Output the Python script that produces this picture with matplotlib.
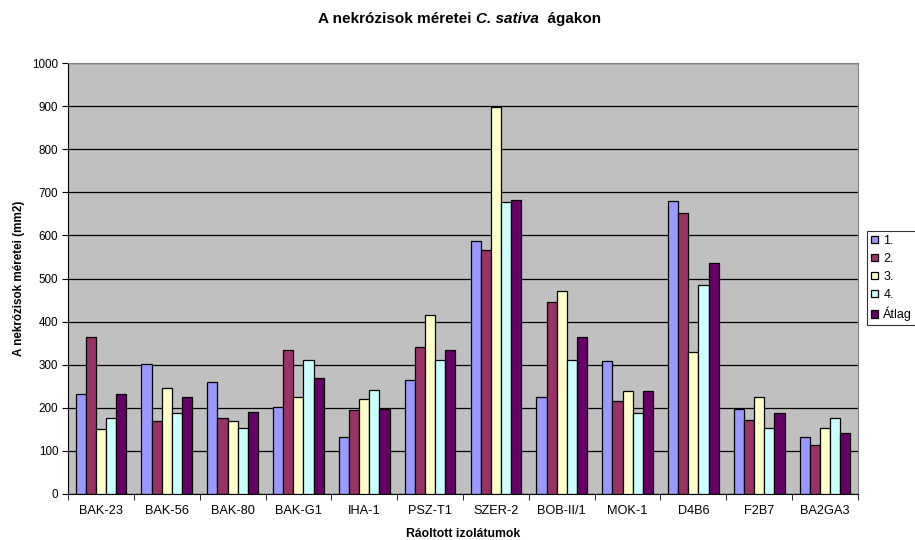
import numpy as np
import matplotlib
matplotlib.use("Agg")
import matplotlib.pyplot as plt

plt.rcParams['font.family'] = ['Liberation Sans', 'DejaVu Sans']

categories = ["BAK-23", "BAK-56", "BAK-80", "BAK-G1", "IHA-1", "PSZ-T1",
              "SZER-2", "BOB-II/1", "MOK-1", "D4B6", "F2B7", "BA2GA3"]
series_names = ["1.", "2.", "3.", "4.", "Átlag"]
s1 = [232, 302, 259, 202, 132, 264, 588, 226, 308, 679, 198, 132]
s2 = [365, 170, 176, 334, 195, 340, 566, 446, 215, 653, 171, 114]
s3 = [151, 246, 170, 226, 220, 415, 898, 472, 239, 330, 226, 152]
s4 = [176, 188, 154, 311, 242, 311, 678, 311, 189, 484, 152, 176]
avg = [232, 226, 190, 268, 198, 333, 683, 364, 238, 537, 187, 142]
colors = ["#9999FF", "#993366", "#FFFFCC", "#CCFFFF", "#660066"]

series = [s1, s2, s3, s4, avg]

fig = plt.figure(figsize=(9.15, 5.4), dpi=100)
ax = fig.add_axes([68/915, 46/540, 790/915, 431/540])
ax.set_facecolor("#C0C0C0")

n = len(series)
w = 1 / 6.5
x = np.arange(len(categories))
for i, (vals, c, name) in enumerate(zip(series, colors, series_names)):
    off = (i - (n - 1) / 2) * w
    # soft drop shadow behind each bar
    ax.bar(x + off + 0.015, vals, width=w, color="#555555", alpha=0.45,
           linewidth=0, zorder=2)
    ax.bar(x + off, vals, width=w, color=c, edgecolor="black",
           linewidth=0.9, zorder=3, label=name)

ax.set_xlim(-0.5, len(categories) - 0.5)
ax.set_ylim(0, 1000)
ax.set_yticks(np.arange(0, 1001, 100))
ax.yaxis.grid(True, color="black", linewidth=0.9, zorder=1)
ax.set_axisbelow(True)

ax.set_xticks(x)
ax.set_xticklabels(categories, fontsize=9.2)
ax.tick_params(axis='x', length=0, pad=8)
ax.set_xticks(np.arange(-0.5, len(categories) + 0.5, 1), minor=True)
ax.tick_params(axis='x', which='minor', length=4, direction='out', color='black')
ax.tick_params(axis='y', length=4, direction='out', labelsize=8.4, pad=3)

for side in ["top", "right"]:
    ax.spines[side].set_color("#808080")
ax.spines["left"].set_color("black")
ax.spines["bottom"].set_color("black")

ax.set_xlabel("Ráoltott izolátumok", fontsize=8.8, fontweight="bold", labelpad=8)
ax.set_ylabel("A nekrózisok méretei (mm2)", fontsize=8.4, fontweight="bold", labelpad=5)

# Title with the species name in italics
fig.canvas.draw()
renderer = fig.canvas.get_renderer()
parts = [("A nekrózisok méretei ", "normal"), ("C. sativa", "italic"), ("  ágakon", "normal")]
texts = []
for s, style in parts:
    t = fig.text(0, 0, s, fontsize=11, fontweight="bold", style=style,
                 ha="left", va="baseline")
    texts.append(t)
widths = [t.get_window_extent(renderer).width for t in texts]
total = sum(widths)
xpix = 459.5 - total / 2
for t, wd in zip(texts, widths):
    t.set_position((xpix / 915, 1 - 23 / 540))
    xpix += wd

leg = fig.legend(loc="upper left", bbox_to_anchor=(867/915, 1 - 231/540),
                 fontsize=9, frameon=True, fancybox=False, edgecolor="black",
                 handlelength=0.55, handleheight=0.55, handletextpad=0.45,
                 borderpad=0.3, labelspacing=0.48, borderaxespad=0)
leg.get_frame().set_linewidth(0.8)

fig.savefig("out.png", dpi=100)
